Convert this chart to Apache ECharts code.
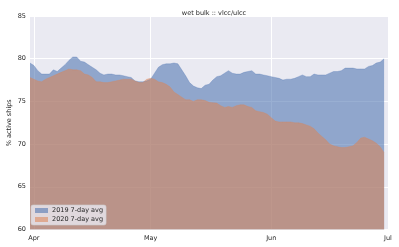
<!DOCTYPE html>
<html>
<head>
<meta charset="utf-8">
<script src="https://cdn.jsdelivr.net/npm/echarts@6/dist/echarts.min.js"></script>
<style>html,body{margin:0;padding:0;background:#fff}#c{width:399px;height:247px}</style>
</head>
<body>
<div id="c"></div>
<script>
// day index 0 = Mar 31, 91 = Jun 30
const days = Array.from({length: 92}, (_, i) => i);
const avg2019 = [79.5,79.2,78.6,78.2,78.2,78.2,78.7,78.5,78.9,79.3,79.8,80.2,80.2,79.7,79.6,79.3,79.0,78.7,78.3,78.1,
78.2,78.2,78.1,78.1,78.0,77.9,77.8,77.4,77.3,77.3,77.4,77.6,78.3,79.0,79.3,79.4,79.4,79.5,79.4,78.7,
78.0,77.2,76.8,76.6,76.5,76.9,77.0,77.5,77.9,78.0,78.3,78.6,78.3,78.2,78.2,78.4,78.5,78.6,78.2,78.2,
78.1,78.0,77.9,77.8,77.7,77.5,77.6,77.6,77.7,77.9,78.1,77.9,77.9,78.2,78.1,78.1,78.1,78.3,78.5,78.5,
78.6,78.9,78.9,78.9,78.8,78.8,78.8,79.1,79.2,79.5,79.6,80.0];
const avg2020 = [77.8,77.6,77.4,77.3,77.6,77.8,78.0,78.2,78.4,78.6,78.8,78.7,78.7,78.6,78.2,78.1,77.8,77.3,77.3,77.2,
77.2,77.3,77.4,77.5,77.6,77.6,77.6,77.4,77.2,77.2,77.6,77.7,77.6,77.3,77.2,77.0,76.7,76.1,75.8,75.5,
75.2,75.2,75.0,75.2,75.2,75.1,74.9,74.85,74.8,74.5,74.3,74.4,74.3,74.5,74.6,74.6,74.4,74.3,73.9,73.8,
73.7,73.5,73.1,72.7,72.6,72.6,72.6,72.6,72.5,72.5,72.4,72.25,72.1,71.8,71.3,70.9,70.5,70.0,69.8,69.7,
69.6,69.6,69.7,69.8,70.2,70.7,70.8,70.6,70.4,70.1,69.7,69.0];
const xTickValues = [1, 31, 62, 92];
const xTickLabels = ['Apr', 'May', 'Jun', 'Jul'];
const seriesNames = ['2019 7-day avg', '2020 7-day avg'];
const titleText = 'wet bulk :: vlcc/ulcc';
const yAxisName = '% active ships';

const FONT = 'DejaVu Sans';
const TXT = '#262626';
const blueA = 'rgba(76,114,176,0.57)';
const orangeA = 'rgba(221,132,82,0.55)';

const chart = echarts.init(document.getElementById('c'), null, {renderer: 'canvas'});
chart.setOption({
  animation: false,
  title: {
    text: titleText, left: 209, top: 5, textAlign: 'center',
    textStyle: {fontFamily: FONT, fontSize: 6.5, fontWeight: 'normal', color: TXT}
  },
  grid: {left: 30, right: 11, top: 16, bottom: 17.5, show: true, backgroundColor: '#EAEAF2', borderWidth: 0,
         containLabel: false, outerBoundsMode: 'none'},
  legend: {
    orient: 'vertical', left: 31, top: 205,
    padding: [2, 3, 2, 4], itemGap: 2, itemWidth: 13, itemHeight: 5,
    backgroundColor: 'rgba(234,234,242,0.8)', borderColor: '#cccccc', borderWidth: 0.6, borderRadius: 2,
    textStyle: {fontFamily: FONT, fontSize: 6.5, color: TXT, padding: [0,0,0,-1]},
    data: [
      {name: seriesNames[0], icon: 'rect', itemStyle: {color: blueA}},
      {name: seriesNames[1], icon: 'rect', itemStyle: {color: orangeA}}
    ]
  },
  xAxis: {
    type: 'value', min: 0, max: 92,
    axisLine: {show: false},
    axisTick: {show: false, customValues: xTickValues},
    axisLabel: {
      customValues: xTickValues, margin: 5,
      fontFamily: FONT, fontSize: 6.5, color: TXT,
      formatter: v => xTickLabels[xTickValues.indexOf(v)] || ''
    },
    splitLine: {show: true, lineStyle: {color: '#ffffff', width: 1}}
  },
  yAxis: {
    type: 'value', min: 60, max: 85, interval: 5,
    name: yAxisName, nameLocation: 'middle', nameGap: 17, nameRotate: 90, nameMoveOverlap: false,
    nameTextStyle: {fontFamily: FONT, fontSize: 6.5, color: TXT},
    axisLine: {show: false}, axisTick: {show: false},
    axisLabel: {margin: 4, fontFamily: FONT, fontSize: 6.5, color: TXT},
    splitLine: {show: true, lineStyle: {color: '#ffffff', width: 1}}
  },
  series: [
    {
      name: seriesNames[0], type: 'line', data: days.map((d, i) => [d, avg2019[i]]),
      showSymbol: false, symbol: 'none', lineStyle: {width: 0.5, color: blueA}, itemStyle: {color: blueA},
      areaStyle: {color: blueA, opacity: 1, origin: 'start'}
    },
    {
      name: seriesNames[1], type: 'line', data: days.map((d, i) => [d, avg2020[i]]),
      showSymbol: false, symbol: 'none', lineStyle: {width: 0.5, color: orangeA}, itemStyle: {color: orangeA},
      areaStyle: {color: orangeA, opacity: 1, origin: 'start'}
    }
  ]
});
</script>
</body>
</html>
